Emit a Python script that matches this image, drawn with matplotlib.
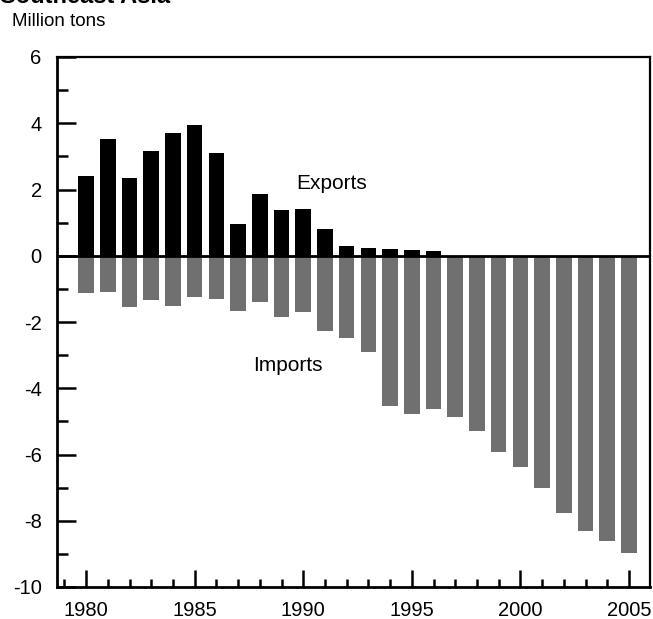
import numpy as np
import matplotlib
matplotlib.use("Agg")
import matplotlib.pyplot as plt
from matplotlib.ticker import MultipleLocator

plt.rcParams["font.family"] = ["Liberation Sans", "DejaVu Sans"]

# --- data (million tons) ---
years = list(range(1980, 2006))
exports = [2.42, 3.51, 2.36, 3.17, 3.70, 3.95, 3.11, 0.95, 1.86, 1.37, 1.41, 0.82,
           0.28, 0.22, 0.20, 0.18, 0.15, 0, 0, 0, 0, 0, 0, 0, 0, 0]
imports = [-1.13, -1.09, -1.56, -1.33, -1.52, -1.25, -1.31, -1.67, -1.41, -1.85,
           -1.70, -2.27, -2.47, -2.90, -4.55, -4.78, -4.62, -4.86, -5.30, -5.92,
           -6.38, -7.00, -7.77, -8.30, -8.60, -8.98]
y_ticks = [6, 4, 2, 0, -2, -4, -6, -8, -10]
x_ticks = [1980, 1985, 1990, 1995, 2000, 2005]

fig = plt.figure(figsize=(6.53, 6.19), dpi=100)
ax = fig.add_axes([57 / 653, 1 - 587 / 619, 593 / 653, 530 / 619])

ax.bar(years, exports, width=0.72, color="black", zorder=2)
ax.bar(years, imports, width=0.72, color="#707070", zorder=2)
ax.axhline(0, color="black", lw=2, zorder=3)

ax.set_xlim(1978.66, 2005.97)
ax.set_ylim(-10, 6)
ax.set_yticks(y_ticks)
ax.set_yticklabels([str(t) for t in y_ticks])
ax.yaxis.set_minor_locator(MultipleLocator(1))
ax.set_xticks(x_ticks)
ax.xaxis.set_minor_locator(MultipleLocator(1))

ax.tick_params(axis="both", which="major", direction="in", labelsize=14.5,
               width=1.8, color="black")
ax.tick_params(axis="y", which="major", length=14, pad=11)
ax.tick_params(axis="y", which="minor", direction="in", length=8, width=1.8)
ax.tick_params(axis="x", which="major", length=12, pad=10)
ax.tick_params(axis="x", which="minor", direction="in", length=6, width=1.8)

for side in ["left", "bottom"]:
    ax.spines[side].set_linewidth(2)
for side in ["top", "right"]:
    ax.spines[side].set_linewidth(1.6)

ax.text(1991.3, 2.17, "Exports", fontsize=15, ha="center", va="center")
ax.text(1989.3, -3.32, "Imports", fontsize=15, ha="center", va="center")

# title is cropped at the top edge in the source scan
fig.text(0.0, 1 - 3 / 619, "Southeast Asia", fontsize=17, fontweight="bold",
         ha="left", va="baseline")
fig.text(12 / 653, 1 - 22 / 619, "Million tons", fontsize=13.5, ha="left",
         va="center")

fig.savefig("out.png", dpi=100)
